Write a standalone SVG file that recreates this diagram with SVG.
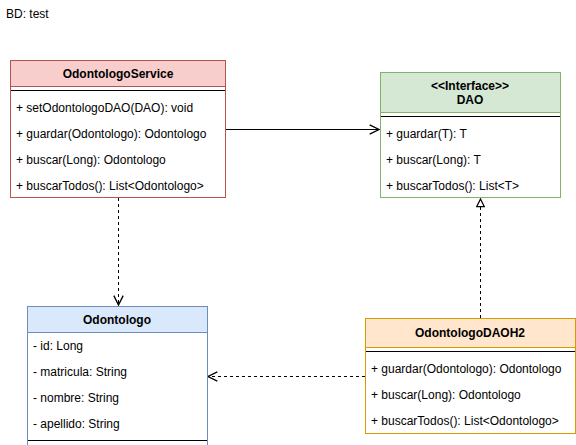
<svg xmlns="http://www.w3.org/2000/svg" width="576" height="445" viewBox="0 0 576 445">
<style>
text{font-family:"Liberation Sans",Arial,sans-serif;font-size:12px;fill:#000}
.h{font-weight:bold;text-anchor:middle}
.body{fill:#fff}
.div{stroke:#000;stroke-width:1}
.c{fill:none;stroke:#000;stroke-width:1}
.d{stroke-dasharray:3 3}
</style>
<defs>
<marker id="vee" markerUnits="userSpaceOnUse" markerWidth="12" markerHeight="12" refX="8" refY="4" orient="auto" viewBox="0 0 9 8">
<path d="M1,0.5 L8,4 L1,7.5" fill="none" stroke="#000" stroke-width="1"/>
</marker>
<marker id="tri" markerUnits="userSpaceOnUse" markerWidth="10" markerHeight="10" refX="7" refY="4" orient="auto" viewBox="0 0 8 8">
<path d="M1,1 L7,4 L1,7 Z" fill="#fff" stroke="#000" stroke-width="1"/>
</marker>
</defs>
<rect width="576" height="445" fill="#fff"/>
<text x="6" y="18">BD: test</text>

<g id="connectors">
<path class="c" d="M226,129.5 H379" marker-end="url(#vee)"/>
<path class="c d" d="M118.5,198 V305" marker-end="url(#vee)"/>
<path class="c d" d="M480.5,318 V199" marker-end="url(#tri)"/>
<path class="c d" d="M365,376.5 H208" marker-end="url(#vee)"/>
</g>

<g id="OdontologoService">
<rect x="10.5" y="60.5" width="215" height="137" class="body" stroke="#b85450"/>
<rect x="10.5" y="60.5" width="215" height="26" fill="#f8cecc" stroke="#b85450"/>
<line x1="11" y1="90.5" x2="225" y2="90.5" class="div"/>
<text class="h" x="118" y="78">OdontologoService</text>
<text x="16" y="112">+ setOdontologoDAO(DAO): void</text>
<text x="16" y="138">+ guardar(Odontologo): Odontologo</text>
<text x="16" y="164">+ buscar(Long): Odontologo</text>
<text x="16" y="190">+ buscarTodos(): List&lt;Odontologo&gt;</text>
</g>

<g id="DAO">
<rect x="380.5" y="72.5" width="180" height="125" class="body" stroke="#82b366"/>
<rect x="380.5" y="72.5" width="180" height="40" fill="#d5e8d4" stroke="#82b366"/>
<line x1="381" y1="116.5" x2="560" y2="116.5" class="div"/>
<text class="h" x="470" y="90">&lt;&lt;Interface&gt;&gt;</text>
<text class="h" x="470" y="104">DAO</text>
<text x="386" y="138">+ guardar(T): T</text>
<text x="386" y="164">+ buscar(Long): T</text>
<text x="386" y="190">+ buscarTodos(): List&lt;T&gt;</text>
</g>

<g id="Odontologo">
<rect x="27.5" y="306.5" width="180" height="145" class="body" stroke="#6c8ebf"/>
<rect x="27.5" y="306.5" width="180" height="26" fill="#dae8fc" stroke="#6c8ebf"/>
<line x1="28" y1="440.5" x2="207" y2="440.5" class="div"/>
<text class="h" x="117" y="324">Odontologo</text>
<text x="33" y="350">- id: Long</text>
<text x="33" y="376">- matricula: String</text>
<text x="33" y="402">- nombre: String</text>
<text x="33" y="428">- apellido: String</text>
</g>

<g id="OdontologoDAOH2">
<rect x="365.5" y="318.5" width="210" height="115" class="body" stroke="#d79b00"/>
<rect x="365.5" y="318.5" width="210" height="29" fill="#ffe6cc" stroke="#d79b00"/>
<line x1="366" y1="351.5" x2="575" y2="351.5" class="div"/>
<text class="h" x="470" y="337">OdontologoDAOH2</text>
<text x="371" y="373">+ guardar(Odontologo): Odontologo</text>
<text x="371" y="399">+ buscar(Long): Odontologo</text>
<text x="371" y="425">+ buscarTodos(): List&lt;Odontologo&gt;</text>
</g>
</svg>
